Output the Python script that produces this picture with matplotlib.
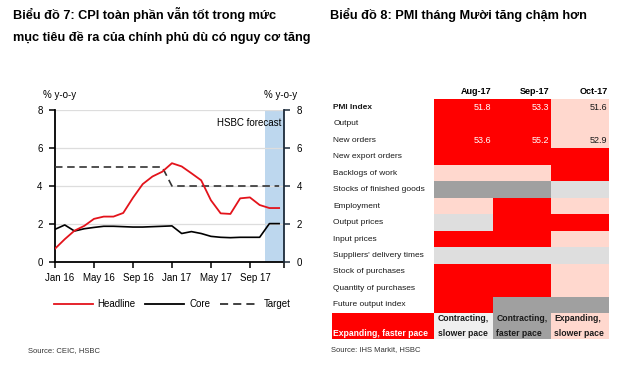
import numpy as np
import matplotlib.pyplot as plt
import matplotlib.transforms as mtransforms
from matplotlib.colors import ListedColormap
from matplotlib.lines import Line2D

plt.rcParams['font.family'] = ['Liberation Sans', 'DejaVu Sans']

# --- chart 7: CPI, % y-o-y, Jan 16 .. Dec 17 (last two = forecast)
months = ['Jan 16', 'Feb 16', 'Mar 16', 'Apr 16', 'May 16', 'Jun 16', 'Jul 16', 'Aug 16',
          'Sep 16', 'Oct 16', 'Nov 16', 'Dec 16', 'Jan 17', 'Feb 17', 'Mar 17', 'Apr 17',
          'May 17', 'Jun 17', 'Jul 17', 'Aug 17', 'Sep 17', 'Oct 17', 'Nov 17', 'Dec 17']
headline = [0.70, 1.20, 1.65, 1.90, 2.27, 2.39, 2.39, 2.58, 3.38, 4.10, 4.50, 4.75,
            5.20, 5.03, 4.67, 4.30, 3.25, 2.56, 2.53, 3.35, 3.40, 3.00, 2.84, 2.84]
core = [1.72, 1.95, 1.63, 1.75, 1.82, 1.88, 1.88, 1.86, 1.84, 1.84, 1.86, 1.88,
        1.90, 1.50, 1.60, 1.50, 1.35, 1.30, 1.28, 1.30, 1.30, 1.30, 2.02, 2.02]
target = [5] * 12 + [4] * 12
xtick_labels = ['Jan 16', 'May 16', 'Sep 16', 'Jan 17', 'May 17', 'Sep 17']
forecast_start = 'Nov 17'

# --- chart 8: PMI heat table
rows = ['PMI Index', 'Output', 'New orders', 'New export orders', 'Backlogs of work',
        'Stocks of finished goods', 'Employment', 'Output prices', 'Input prices',
        "Suppliers' delivery times", 'Stock of purchases', 'Quantity of purchases',
        'Future output index']
cols = ['Aug-17', 'Sep-17', 'Oct-17']
# 0 expanding faster, 1 contracting slower, 2 contracting faster, 3 expanding slower
codes = [[0, 0, 3], [0, 0, 3], [0, 0, 3], [0, 0, 0], [3, 3, 0], [2, 2, 1], [3, 0, 3],
         [1, 0, 0], [0, 0, 3], [1, 1, 1], [0, 0, 3], [0, 0, 3], [0, 2, 2]]
values = {'PMI Index': [51.8, 53.3, 51.6], 'New orders': [53.6, 55.2, 52.9]}
key_labels = ['Expanding, faster pace', 'Contracting,\nslower pace',
              'Contracting,\nfaster pace', 'Expanding,\nslower pace']

red = '#FF0000'
pink = '#FFD8CE'
lgray = '#DEDEDE'
dgray = '#A0A0A0'

fig = plt.figure(figsize=(6.4, 3.68), dpi=100)
W, H = 640, 368

fig.text(13 / W, 1 - 15 / H, 'Biểu đồ 7: CPI toàn phần vẫn tốt trong mức',
         fontsize=9.2, fontweight='bold', va='center')
fig.text(13 / W, 1 - 38 / H, 'mục tiêu đề ra của chính phủ dù có nguy cơ tăng',
         fontsize=9.2, fontweight='bold', va='center')
fig.text(330 / W, 1 - 15 / H, 'Biểu đồ 8: PMI tháng Mười tăng chậm hơn',
         fontsize=9.2, fontweight='bold', va='center')

# ---------------- left chart
ax = fig.add_axes([55 / W, 1 - 262 / H, 229 / W, 152 / H])
x = np.arange(len(months))
fc = months.index(forecast_start)
ax.axvspan(fc - 0.5, len(months) - 0.5, color='#BDD7EE', lw=0, zorder=0)
ax.plot(x, target, color='#333333', lw=1.2, dashes=(4.5, 2.8), zorder=3)
ax.plot(x, core, color='black', lw=1.2, zorder=3)
ax.plot(x, headline, color='#E3131B', lw=1.3, zorder=4)

ax.set_xlim(0, len(months) - 0.5)
ax.set_ylim(0, 8)
ax.set_yticks([0, 2, 4, 6, 8])
ax.yaxis.grid(True, color='#DDDDDD', lw=0.9)
ax.set_axisbelow(True)
ax.set_xticks([months.index(m) for m in xtick_labels] + [len(months) - 0.5])
ax.set_xticklabels(xtick_labels + [''])
for sp in ['top', 'right']:
    ax.spines[sp].set_visible(False)
ax.spines['left'].set_linewidth(1.3)
ax.spines['bottom'].set_linewidth(1.3)
ax.tick_params(axis='both', labelsize=7, length=4, width=1.1, color='black')
ax.tick_params(axis='y', pad=5)
ax.tick_params(axis='x', pad=4)
off = mtransforms.ScaledTranslation(5 / 100, 0, fig.dpi_scale_trans)
for lab in ax.get_xticklabels():
    lab.set_transform(lab.get_transform() + off)

ax2 = ax.twinx()
ax2.set_ylim(0, 8)
ax2.set_yticks([0, 2, 4, 6, 8])
for sp in ['top', 'left', 'bottom']:
    ax2.spines[sp].set_visible(False)
ax2.spines['right'].set_color('#1C2B3A')
ax2.spines['right'].set_linewidth(1.3)
ax2.tick_params(axis='y', labelsize=7, length=4, width=1.1, color='#1C2B3A', pad=5)

ax.text(0.02, 1.1, '% y-o-y', transform=ax.transAxes, fontsize=7, ha='center', va='center')
ax.text(0.983, 1.1, '% y-o-y', transform=ax.transAxes, fontsize=7, ha='center', va='center')
ax.text(0.987, 0.914, 'HSBC forecast', transform=ax.transAxes, fontsize=7,
        ha='right', va='center')

handles = [Line2D([], [], color='#E3131B', lw=1.3),
           Line2D([], [], color='black', lw=1.3),
           Line2D([], [], color='#333333', lw=1.3, dashes=(4.5, 2.8))]
fig.legend(handles, ['Headline', 'Core', 'Target'], loc='center',
           bbox_to_anchor=(172 / W, 1 - 304 / H), ncol=3, frameon=False, fontsize=7,
           handlelength=4, handletextpad=0.5, columnspacing=1.0)
fig.text(28 / W, 1 - 351 / H, 'Source: CEIC, HSBC', fontsize=5.5, color='#333333',
         va='center')

# ---------------- right table
lab_w = 1.76
key_h = 1.58
axt = fig.add_axes([331.7 / W, 1 - 339.3 / H, 277.6 / W, 240.5 / H])
axt.set_xlim(-lab_w, len(cols))
axt.set_ylim(len(rows) + key_h, 0)
axt.axis('off')

axt.pcolormesh(np.arange(len(cols) + 1), np.arange(len(rows) + 1), np.array(codes),
               cmap=ListedColormap([red, lgray, dgray, pink]), vmin=-0.5, vmax=3.5)
axt.pcolormesh([-lab_w, 0, 1, 2, 3], [len(rows), len(rows) + key_h], [[0, 1, 2, 3]],
               cmap=ListedColormap([red, '#F0F0F0', dgray, pink]), vmin=-0.5, vmax=3.5)

for j, c in enumerate(cols):
    axt.text(j + 0.97, -0.42, c, fontsize=6.5, fontweight='bold', ha='right',
             va='center', clip_on=False)
for i, r in enumerate(rows):
    axt.text(-lab_w + 0.03, i + 0.5, r, fontsize=6, ha='left', va='center',
             color='#1a1a1a', fontweight='bold' if r == 'PMI Index' else 'normal')
    if r in values:
        for j, v in enumerate(values[r]):
            axt.text(j + 0.97, i + 0.5, f'{v:.1f}', fontsize=6.5, ha='right', va='center',
                     color='white' if codes[i][j] == 0 else '#1a1a1a')

key_left = [-lab_w, 0, 1, 2]
for k, lab in enumerate(key_labels):
    if '\n' in lab:
        axt.text(key_left[k] + 0.06, len(rows) + 0.78, lab, fontsize=6.2, fontweight='bold',
                 ha='left', va='center', linespacing=1.8, color='#1a1a1a')
    else:
        axt.text(key_left[k] + 0.03, len(rows) + 1.25, lab, fontsize=6.2, fontweight='bold',
                 ha='left', va='center', color='white')

fig.text(331 / W, 1 - 350 / H, 'Source: IHS Markit, HSBC', fontsize=5.5, color='#333333',
         va='center')

fig.savefig('out.png', dpi=100)
